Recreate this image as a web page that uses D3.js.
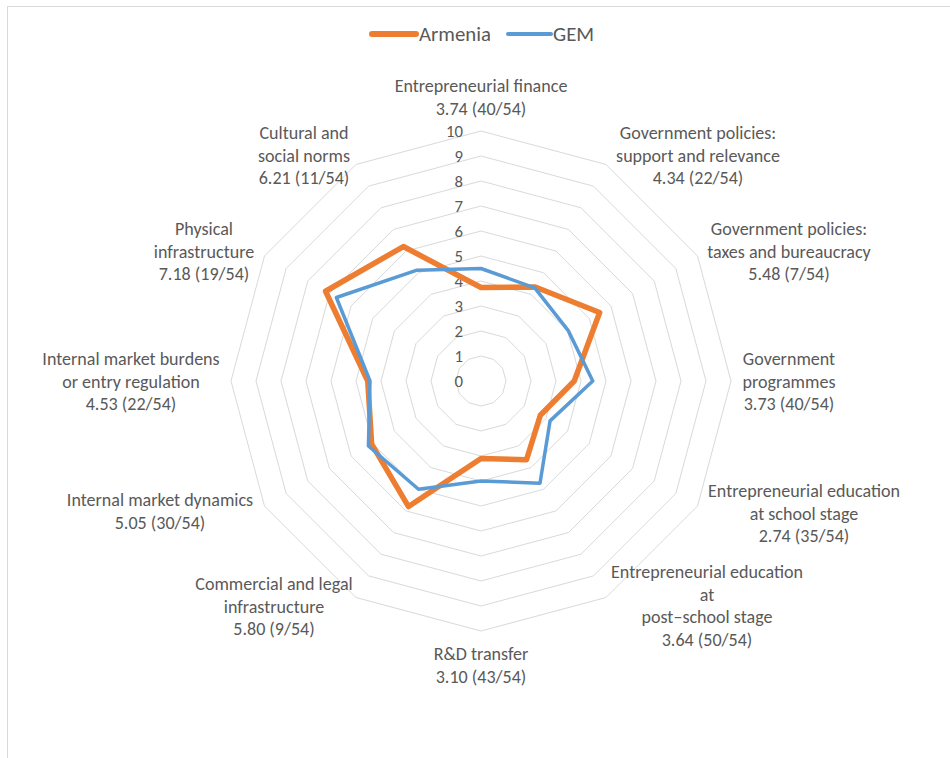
<!DOCTYPE html>
<html><head><meta charset="utf-8">
<script src="https://cdn.jsdelivr.net/npm/d3@7"></script>
<style>body{margin:0;background:#fff;overflow:hidden}</style>
</head><body><svg id="c" width="950" height="758"></svg>
<script>
// ---- data ----
const categoryLines = [
  ["Entrepreneurial finance"],
  ["Government policies:", "support and relevance"],
  ["Government policies:", "taxes and bureaucracy"],
  ["Government", "programmes"],
  ["Entrepreneurial education", "at school stage"],
  ["Entrepreneurial education", "at", "post\u2013school stage"],
  ["R&D transfer"],
  ["Commercial and legal", "infrastructure"],
  ["Internal market dynamics"],
  ["Internal market burdens", "or entry regulation"],
  ["Physical", "infrastructure"],
  ["Cultural and", "social norms"]
];
const ranks = ["40/54","22/54","7/54","40/54","35/54","50/54","43/54","9/54","30/54","22/54","19/54","11/54"];
const armenia = [3.74, 4.34, 5.48, 3.73, 2.74, 3.64, 3.10, 5.80, 5.05, 4.53, 7.18, 6.21];
const gem     = [4.50, 4.30, 4.03, 4.47, 3.19, 4.72, 4.00, 5.00, 5.20, 4.44, 6.68, 5.12];
const tickValues = [0,1,2,3,4,5,6,7,8,9,10];
const seriesNames = ["Armenia", "GEM"];

// ---- layout ----
const cx = 481, cy = 381, R = 250;
const labelPos = [ // text block centre x, first-line centre y
  [481, 86], [698, 133], [789, 229], [789, 359], [804, 491], [707, 572],
  [481, 654], [274, 584], [160, 500], [131, 359], [204, 229], [304, 133]
];
const lineH = 22.6;
const colors = ["#ED7D31", "#5B9BD5"];
const widths = [5.5, 3.5];
const txt = "#595959";
const FONT = "Carlito, Calibri, Lato, 'Open Sans', sans-serif";

const svg = d3.select("#c");
// fit a font size so a reference string has the target width
function fitSize(str, target){
  const t = svg.append("text").attr("font-family", FONT).attr("font-size", 100).text(str);
  const w = t.node().getComputedTextLength(); t.remove();
  return 100 * target / w;
}
const labelSize = fitSize("Entrepreneurial education", 192);
const tickSize = fitSize("10", 17);
const legendSize = fitSize("Armenia", 72);

// frame
svg.append("rect").attr("x", 7.5).attr("y", 6.5).attr("width", 1200).attr("height", 1200)
  .attr("fill", "none").attr("stroke", "#D9D9D9").attr("stroke-width", 1);

const n = categoryLines.length;
const angle = d3.scaleLinear().domain([0, n]).range([0, 2 * Math.PI]);
const r = d3.scaleLinear().domain([0, 10]).range([0, R]);
const g = svg.append("g").attr("transform", `translate(${cx},${cy})`);

const radial = d3.lineRadial().angle((d, i) => angle(i)).radius(d => r(d)).curve(d3.curveLinearClosed);

// grid rings
g.selectAll("path.ring").data(tickValues.filter(v => v > 0)).join("path")
  .attr("class", "ring")
  .attr("d", v => radial(d3.range(n).map(() => v)))
  .attr("fill", "none").attr("stroke", "#D9D9D9").attr("stroke-width", 1);

// tick labels
g.selectAll("text.tick").data(tickValues).join("text")
  .attr("class", "tick")
  .attr("x", -18).attr("y", v => -r(v))
  .attr("text-anchor", "end").attr("dominant-baseline", "central")
  .attr("font-family", FONT).attr("font-size", tickSize).attr("fill", txt)
  .text(v => v);

// series
[armenia, gem].forEach((s, k) => {
  g.append("path").attr("d", radial(s))
    .attr("fill", "none").attr("stroke", colors[k]).attr("stroke-width", widths[k])
    .attr("stroke-linejoin", "round");
});
// redraw GEM on top as in reference (GEM drawn after Armenia already)

// category labels
categoryLines.forEach((lines, i) => {
  const all = lines.concat([armenia[i].toFixed(2) + " (" + ranks[i] + ")"]);
  const t = svg.append("text").attr("font-family", FONT).attr("font-size", labelSize)
    .attr("fill", txt).attr("text-anchor", "middle");
  all.forEach((l, j) => {
    t.append("tspan").attr("x", labelPos[i][0]).attr("y", labelPos[i][1] + j * lineH)
      .attr("dominant-baseline", "central").text(l);
  });
});

// legend
const leg = [[372, 416, 419], [508, 551, 553]];
seriesNames.forEach((name, k) => {
  svg.append("line").attr("x1", leg[k][0]).attr("x2", leg[k][1]).attr("y1", 34).attr("y2", 34)
    .attr("stroke", colors[k]).attr("stroke-width", k === 0 ? 6 : 4).attr("stroke-linecap", "round");
  svg.append("text").attr("x", leg[k][2]).attr("y", 34).attr("dominant-baseline", "central")
    .attr("font-family", FONT).attr("font-size", legendSize).attr("fill", txt).text(name);
});
</script></body></html>
